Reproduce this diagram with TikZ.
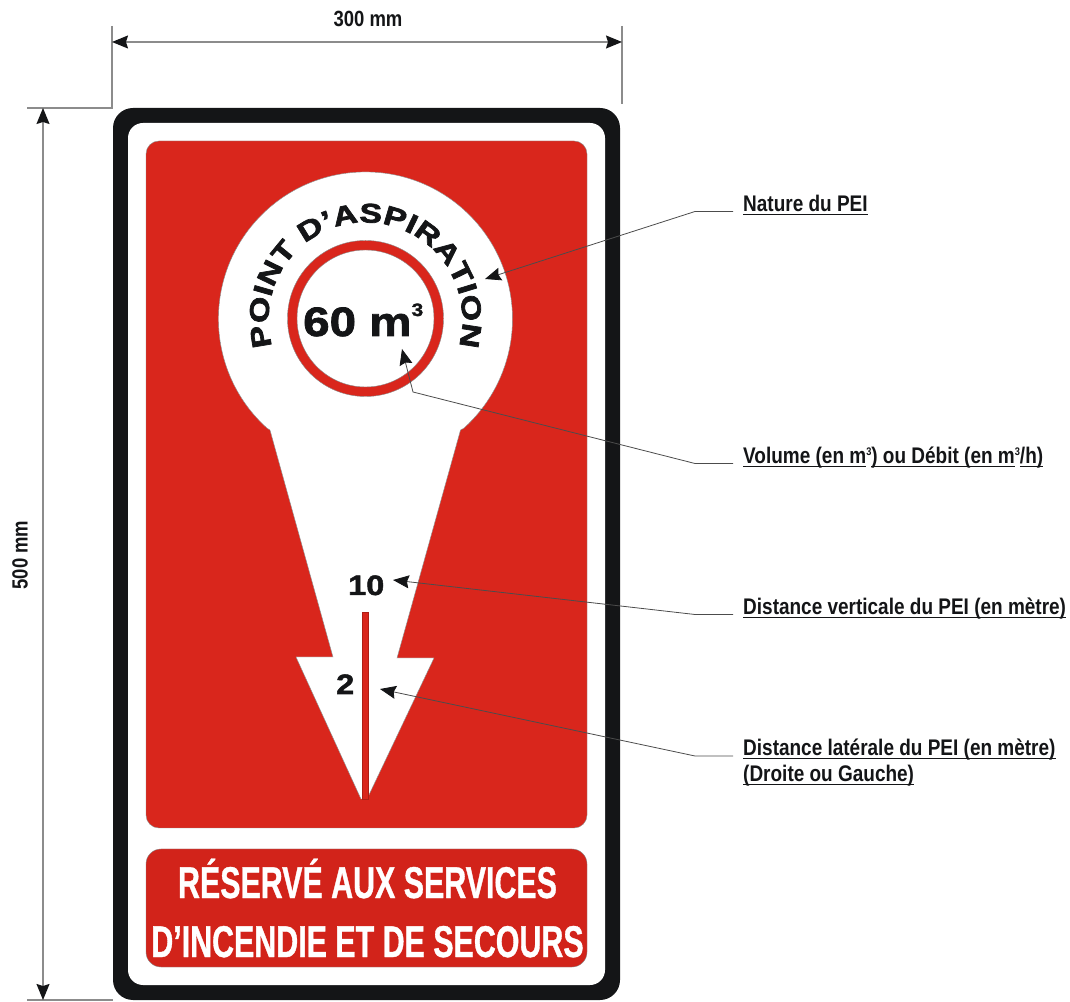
\documentclass[tikz,border=0pt]{standalone}
\usepackage{fontspec}
\setmainfont{Liberation Sans}
\newfontfamily\narrowf{Liberation Sans}[FakeStretch=0.84]
\newfontfamily\condf{Liberation Sans}[FakeStretch=0.683,FakeBold=0.8]
\newfontfamily\widef{Liberation Sans}[FakeStretch=1.16,FakeBold=1.8]
\newfontfamily\arcf{Liberation Sans}[FakeStretch=1.25,FakeBold=2.6]
\usetikzlibrary{arrows.meta,decorations.text}
\definecolor{signred}{HTML}{D9261C}
\definecolor{bandred}{HTML}{D2231A}
\definecolor{signblack}{HTML}{141517}
\definecolor{edgegrey}{HTML}{8A8A8A}
\newcommand\signul[1]{\setbox0\hbox{#1}\rlap{\rule[-3.4pt]{\wd0}{1.3pt}}\box0}
\tikzset{
  plate/.style={draw=edgegrey,line width=.4pt},
  dimboth/.style={draw=black!45,line width=1.2pt,{Stealth[length=16pt,width=13pt,inset=2pt,color=signblack]}-{Stealth[length=16pt,width=13pt,inset=2pt,color=signblack]}},
  extline/.style={draw=black!45,line width=1.2pt},
  leader/.style={draw=black!70,line width=.8pt,shorten <=10pt,-{Stealth[length=16pt,width=13pt,inset=2pt,color=signblack]}},
  callout/.style={anchor=base west,inner sep=0pt,font=\narrowf\bfseries\fontsize{22.6}{22.6}\selectfont,text=signblack},
  dimtext/.style={inner sep=0pt,font=\narrowf\bfseries\fontsize{22}{22}\selectfont,text=signblack},
  bandtext/.style={inner sep=0pt,anchor=base,font=\condf\bfseries\fontsize{44.5}{44.5}\selectfont,text=white},
  numtext/.style={inner sep=0pt,anchor=base west,text=signblack},
}
\begin{document}
\begin{tikzpicture}[x=1pt,y=1pt]
\useasboundingbox (0,0) rectangle (1070,1001);
% plate
\fill[signblack,rounded corners=20pt] (113,1) rectangle (620,893);
\fill[white,rounded corners=15pt] (128,16) rectangle (605,878);
\path[plate,fill=signred,rounded corners=13pt] (146,173) rectangle (587,860);
\path[plate,fill=bandred,rounded corners=15pt] (146,34) rectangle (587,152);
% keyhole arrow
\path[plate,fill=white]
  (267.1,572.8) arc[start angle=228,end angle=-48,radius=147]
  -- (460.5,571) -- (397,343) -- (434,343) -- (367,202) -- (361,202) -- (296,344) -- (333,344) -- (270,571) -- cycle;
% ring
\path[plate,fill=signred,even odd rule] (365.5,682.5) circle[radius=78] (365.5,682.5) circle[radius=68.5];
% stem
\path[draw=signred!80!black,line width=.3pt,fill=signred] (362,202) rectangle (368,389);
% curved text
\path[postaction={decorate},decoration={text along path,text align={fit to path},
  text={|\arcf\bfseries\fontsize{27}{27}\selectfont\color{signblack}|POINT D’ASPIRATION}}]
  (365.5,681.5) ++(196:97) arc[start angle=196,end angle=-16,radius=97];
% numbers
\node[numtext,font=\widef\bfseries\fontsize{41}{41}\selectfont] (vol) at (303,665) {60 m\raisebox{20pt}{\fontsize{18}{18}\selectfont 3}};
\node[numtext,font=\widef\bfseries\fontsize{28}{28}\selectfont] (ten) at (348,406) {10};
\node[numtext,font=\widef\bfseries\fontsize{28}{28}\selectfont] (two) at (336,307) {2};
% band text
\node[bandtext] (bandA) at (367.5,103) {RÉSERVÉ AUX SERVICES};
\node[bandtext] (bandB) at (367.5,44) {D’INCENDIE ET DE SECOURS};
% dimensions
\node[dimtext] (w) at (368,982) {300 mm};
\node[dimtext,rotate=90] (h) at (20,446) {500 mm};
\coordinate (tl) at (112,893);
\coordinate (tlt) at (112,975);
\coordinate (tll) at (27,893);
\coordinate (trt) at (622,975);
\coordinate (trb) at (622,897);
\coordinate (bl) at (27,1);
\coordinate (blr) at (113,1);
\coordinate (dwl) at (112,959);
\coordinate (dwr) at (622,959);
\coordinate (dht) at (43,893);
\coordinate (dhb) at (43,1);
\draw[extline] (tlt) -- (tl) -- (tll);
\draw[extline] (trt) -- (trb);
\draw[extline] (bl) -- (blr);
\draw[dimboth] (dwl) -- (dwr);
\draw[dimboth] (dht) -- (dhb);
% callouts
\node[callout] (natl) at (743,789.5) {\signul{Nature du PEI}};
\node[callout] (voll) at (743,537.5) {\signul{Volume (en m}\raisebox{8pt}{\fontsize{11}{11}\selectfont 3}\signul{) ou Débit (en m}\raisebox{8pt}{\fontsize{11}{11}\selectfont 3}\signul{/h)}};
\node[callout] (verl) at (743,386.5) {\signul{Distance verticale du PEI (en mètre)}};
\node[callout] (latl) at (743,245) {\signul{Distance latérale du PEI (en mètre)}};
\node[callout] (latm) at (743,219) {\signul{(Droite ou Gauche)}};
\coordinate (natb) at (695,789.5);
\coordinate (natt) at (485,722);
\coordinate (volb) at (695,537.5);
\coordinate (volk) at (413,609);
\coordinate (volt) at (402,652);
\coordinate (verb) at (695,386.5);
\coordinate (vert) at (393,421);
\coordinate (latb) at (695,245);
\coordinate (latt) at (380,312);
\draw[leader] (natl.base west) -- (natb) -- (natt);
\draw[leader] (voll.base west) -- (volb) -- (volk) -- (volt);
\draw[leader] (verl.base west) -- (verb) -- (vert);
\draw[leader] (latl.base west) -- (latb) -- (latt);
\end{tikzpicture}
\end{document}
